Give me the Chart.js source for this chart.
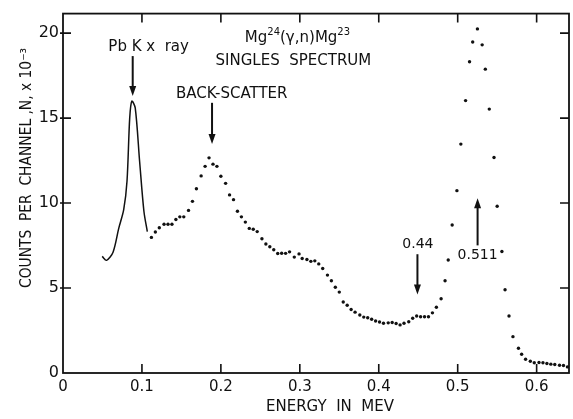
<!DOCTYPE html>
<html>
<head>
<meta charset="utf-8">
<script src="https://cdn.jsdelivr.net/npm/chart.js@4.4.0/dist/chart.umd.min.js"></script>
<style>
  html, body { margin: 0; padding: 0; background: #fff; }
  #wrap { width: 573px; height: 419px; }
</style>
</head>
<body>
<div id="wrap"><canvas id="spectrum" width="573" height="419"></canvas></div>
<script>
// solid trace through the Pb K x-ray peak (MeV, counts x 10^-3)
const peakEnergy = [0.0496, 0.0551, 0.0634, 0.0706, 0.0769, 0.0811, 0.0845, 0.0872, 0.0915, 0.0971, 0.1025, 0.1068];
const peakCounts = [6.86, 6.63, 7.11, 8.51, 9.61, 11.3, 15.0, 16.0, 15.6, 12.43, 9.52, 8.32];

// single channel readings, drawn as dots
const dotEnergy = [
  0.112, 0.117, 0.122, 0.128, 0.133, 0.138, 0.143, 0.148, 0.153, 0.159,
  0.164, 0.169, 0.175, 0.180, 0.185, 0.190, 0.195, 0.200, 0.206, 0.211,
  0.216, 0.221, 0.226, 0.231, 0.236, 0.241, 0.246, 0.252, 0.257, 0.262,
  0.267, 0.272, 0.277, 0.282, 0.287, 0.293, 0.299, 0.303, 0.309, 0.314,
  0.319, 0.324, 0.329, 0.335, 0.340, 0.345, 0.350, 0.355, 0.360, 0.365,
  0.370, 0.376, 0.381, 0.386, 0.391, 0.396, 0.401, 0.406, 0.412, 0.417,
  0.422, 0.427, 0.432, 0.438, 0.443, 0.448, 0.453, 0.458, 0.463, 0.468,
  0.473, 0.479, 0.484, 0.488, 0.493, 0.499, 0.504, 0.510, 0.515, 0.519,
  0.525, 0.531, 0.535, 0.540, 0.546, 0.550, 0.556, 0.560, 0.565, 0.570,
  0.577, 0.581, 0.586, 0.592, 0.597, 0.603, 0.608, 0.613, 0.618, 0.623,
  0.629, 0.634, 0.639
];
const dotCounts = [
  7.98, 8.30, 8.55, 8.75, 8.75, 8.75, 9.03, 9.19, 9.19, 9.57,
  10.1, 10.84, 11.6, 12.16, 12.66, 12.29, 12.16, 11.58, 11.16, 10.48,
  10.2, 9.52, 9.19, 8.88, 8.51, 8.46, 8.32, 7.9, 7.59, 7.43,
  7.25, 7.03, 7.05, 7.04, 7.13, 6.82, 7.01, 6.74, 6.68, 6.57,
  6.6, 6.42, 6.15, 5.76, 5.43, 5.05, 4.76, 4.18, 3.99, 3.74,
  3.58, 3.41, 3.29, 3.25, 3.16, 3.06, 3.0, 2.93, 2.95, 2.97,
  2.91, 2.83, 2.93, 3.02, 3.22, 3.35, 3.31, 3.31, 3.31, 3.54,
  3.87, 4.37, 5.43, 6.65, 8.71, 10.73, 13.47, 16.03, 18.32, 19.48,
  20.25, 19.31, 17.88, 15.53, 12.68, 9.81, 7.15, 4.9, 3.35, 2.14,
  1.46, 1.1, 0.81, 0.69, 0.6, 0.62, 0.6, 0.56, 0.52, 0.5,
  0.46, 0.44, 0.36
];

const xTicks = [0, 0.1, 0.2, 0.3, 0.4, 0.5, 0.6];
const yTicks = [0, 5, 10, 15, 20];

const FONT = "'DejaVu Sans', sans-serif";
const INK = "#111";

// ---------------------- HELPERS ------------------------
function arrow(ctx, x, y0, y1) {
  const dir = y1 > y0 ? 1 : -1;
  ctx.beginPath();
  ctx.moveTo(x, y0);
  ctx.lineTo(x, y1 - dir * 6);
  ctx.lineWidth = 2;
  ctx.stroke();
  ctx.beginPath();
  ctx.moveTo(x, y1);
  ctx.lineTo(x - 3.5, y1 - dir * 10);
  ctx.lineTo(x + 3.5, y1 - dir * 10);
  ctx.closePath();
  ctx.fill();
}

// draws "Mg24(y,n)Mg23" with raised mass numbers, centred on cx
function drawReaction(ctx, cx, cy) {
  const parts = [
    ["Mg", 15, 0], ["24", 10, -6], ["(γ,n)Mg", 15, 0], ["23", 10, -6]
  ];
  let total = 0;
  parts.forEach(p => { ctx.font = p[1] + "px " + FONT; total += ctx.measureText(p[0]).width; });
  let x = cx - total / 2;
  ctx.textAlign = "left";
  parts.forEach(p => {
    ctx.font = p[1] + "px " + FONT;
    ctx.fillText(p[0], x, cy + p[2]);
    x += ctx.measureText(p[0]).width;
  });
}

// ---------------------- FRAME, TICKS, LABELS ------------------------
const decorations = {
  id: "decorations",
  afterDraw(chart) {
    const { ctx, chartArea: a, scales } = chart;
    const sx = scales.x, sy = scales.y;
    ctx.save();
    ctx.strokeStyle = INK;
    ctx.fillStyle = INK;

    // box
    ctx.lineWidth = 1.8;
    ctx.strokeRect(a.left, a.top, a.right - a.left, a.bottom - a.top);

    // inward ticks on all four sides
    ctx.lineWidth = 1.6;
    ctx.beginPath();
    xTicks.forEach(v => {
      const px = sx.getPixelForValue(v);
      if (v > 0) {
        ctx.moveTo(px, a.bottom); ctx.lineTo(px, a.bottom - 9);
        ctx.moveTo(px, a.top); ctx.lineTo(px, a.top + 9);
      }
    });
    yTicks.forEach(v => {
      const py = sy.getPixelForValue(v);
      if (v > 0) {
        ctx.moveTo(a.left - 3, py); ctx.lineTo(a.left + 8, py);
        ctx.moveTo(a.right, py); ctx.lineTo(a.right - 9, py);
      }
    });
    ctx.stroke();

    // annotations
    ctx.textBaseline = "middle";
    ctx.textAlign = "center";
    ctx.font = "15px " + FONT;
    ctx.fillText("Pb K x  ray", sx.getPixelForValue(0.1085), sy.getPixelForValue(19.19), 84);
    arrow(ctx, sx.getPixelForValue(0.0883), sy.getPixelForValue(18.65), sy.getPixelForValue(16.3));

    drawReaction(ctx, sx.getPixelForValue(0.297), sy.getPixelForValue(19.7));
    ctx.textAlign = "center";
    ctx.font = "15px " + FONT;
    ctx.fillText("SINGLES  SPECTRUM", sx.getPixelForValue(0.2919), sy.getPixelForValue(18.38), 176);

    ctx.fillText("BACK-SCATTER", sx.getPixelForValue(0.2137), sy.getPixelForValue(16.42), 126);
    arrow(ctx, sx.getPixelForValue(0.1888), sy.getPixelForValue(15.9), sy.getPixelForValue(13.47));

    ctx.font = "14px " + FONT;
    ctx.fillText("0.44", sx.getPixelForValue(0.4496), sy.getPixelForValue(7.57), 36);
    arrow(ctx, sx.getPixelForValue(0.449), sy.getPixelForValue(6.99), sy.getPixelForValue(4.62));

    ctx.fillText("0.511", sx.getPixelForValue(0.5252), sy.getPixelForValue(6.94), 40);
    arrow(ctx, sx.getPixelForValue(0.5252), sy.getPixelForValue(7.51), sy.getPixelForValue(10.29));

    // axis titles
    ctx.font = "15px " + FONT;
    ctx.fillText("ENERGY  IN  MEV", 330, 407, 146);
    ctx.save();
    ctx.translate(27, 168);
    ctx.rotate(-Math.PI / 2);
    ctx.fillText("COUNTS  PER  CHANNEL ,N, x 10⁻³", 0, 0, 240);
    ctx.restore();

    ctx.restore();
  }
};

// ---------------------- CHART ------------------------
const ctx = document.getElementById("spectrum").getContext("2d");
new Chart(ctx, {
  type: "scatter",
  data: {
    datasets: [
      {
        data: peakEnergy.map((e, i) => ({ x: e, y: peakCounts[i] })),
        showLine: true,
        borderColor: INK,
        borderWidth: 1.5,
        pointRadius: 0,
        tension: 0.3,
      },
      {
        data: dotEnergy.map((e, i) => ({ x: e, y: dotCounts[i] })),
        backgroundColor: INK,
        borderWidth: 0,
        pointRadius: 1.7,
      },
    ],
  },
  options: {
    responsive: false,
    animation: false,
    layout: { padding: { top: 7, right: 2, left: 0, bottom: 0 } },
    plugins: { legend: { display: false }, tooltip: { enabled: false } },
    scales: {
      x: {
        type: "linear",
        min: 0,
        max: 0.641,
        grid: { display: false, drawTicks: false, tickLength: 0 },
        border: { display: false },
        afterBuildTicks: s => { s.ticks = xTicks.map(v => ({ value: v })); },
        afterFit: s => { s.height = 46; },
        ticks: {
          color: INK,
          padding: 5,
          maxRotation: 0,
          font: { family: FONT, size: 15 },
          callback: v => (v === 0 ? "0" : v.toFixed(1)),
        },
      },
      y: {
        type: "linear",
        min: 0,
        max: 21.15,
        grid: { display: false, drawTicks: false, tickLength: 0 },
        border: { display: false },
        afterBuildTicks: s => { s.ticks = yTicks.map(v => ({ value: v })); },
        afterFit: s => { s.width = 63; },
        ticks: {
          color: INK,
          padding: 4,
          font: { family: FONT, size: 16 },
          callback: v => String(v),
        },
      },
    },
  },
  plugins: [decorations],
});
</script>
</body>
</html>
